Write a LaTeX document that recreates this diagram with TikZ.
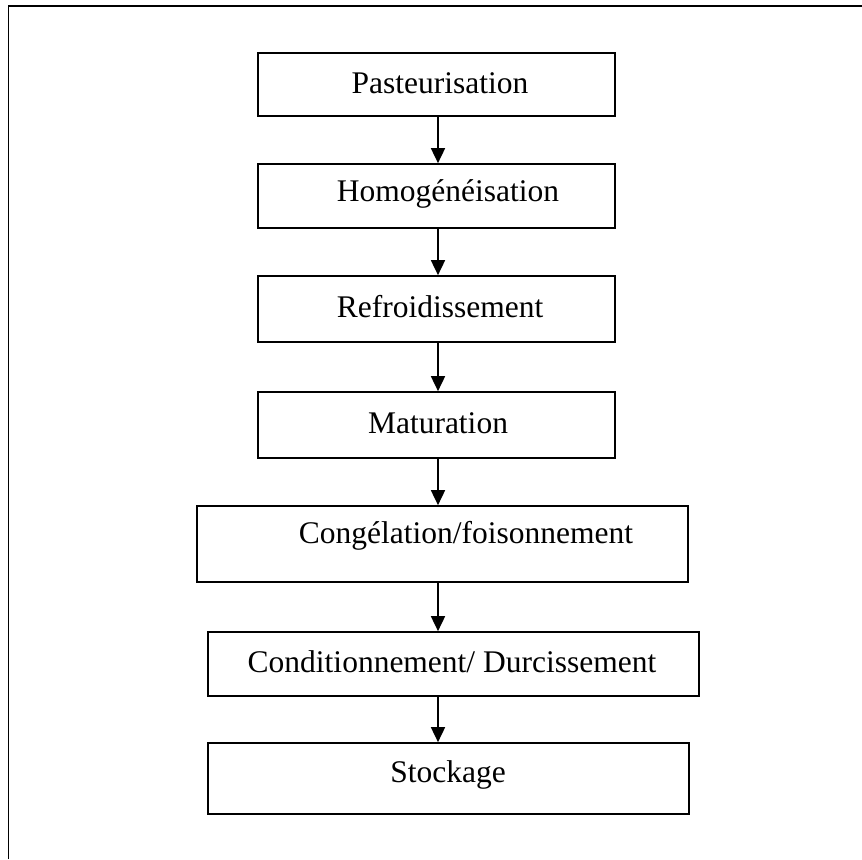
\documentclass[tikz,border=0pt]{standalone}
\usepackage{fontspec}
\setmainfont{Liberation Serif}
\usetikzlibrary{arrows.meta,positioning}

\begin{document}
\begin{tikzpicture}[x=0.5pt, y=-0.5pt, line width=0.85pt,
        font=\fontsize{15.75}{19}\selectfont,
        etape/.style={draw, rectangle, inner sep=0pt},
        fleche/.style={-{Triangle[length=7.5pt, width=7pt]}}]
        \useasboundingbox (0,0) rectangle (862,859);

        % Cadre
        \draw (8.5,859) -- (8.5,6) -- (862,6);

        % Etapes
        \node[etape, minimum width=178.5pt, minimum height=31.5pt,
            label={[xshift=1.75pt, yshift=0.75pt]center:Pasteurisation}] (pas) at (436.5,84.5) {};
        \node[etape, minimum width=178.5pt, minimum height=32pt,
            label={[xshift=5.75pt, yshift=1pt]center:Homogénéisation}] (hom) at (436.5,196) {};
        \node[etape, minimum width=178.5pt, minimum height=33pt,
            label={[xshift=1.75pt, yshift=1pt]center:Refroidissement}] (ref) at (436.5,309) {};
        \node[etape, minimum width=178.5pt, minimum height=33pt,
            label={[xshift=0.75pt, yshift=1pt]center:Maturation}] (mat) at (436.5,425) {};
        \node[etape, minimum width=245.5pt, minimum height=38pt,
            label={[xshift=11.75pt, yshift=4pt]center:Congélation/foisonnement}] (cong) at (442.5,544) {};
        \node[etape, minimum width=245.5pt, minimum height=32pt,
            label={[xshift=-0.75pt, yshift=1pt]center:Conditionnement/ Durcissement}] (cond) at (453.5,664) {};
        \node[etape, minimum width=240.5pt, minimum height=35.5pt,
            label={[xshift=-0.25pt, yshift=1.75pt]center:Stockage}] (stock) at (448.5,778.5) {};

        % Fleches
        \coordinate (axe) at (438,0);
        \foreach \a/\b in {pas/hom, hom/ref, ref/mat, mat/cong, cong/cond, cond/stock}
            \draw[fleche] (\a.south -| axe) -- (\b.north -| axe);
    \end{tikzpicture}
\end{document}
